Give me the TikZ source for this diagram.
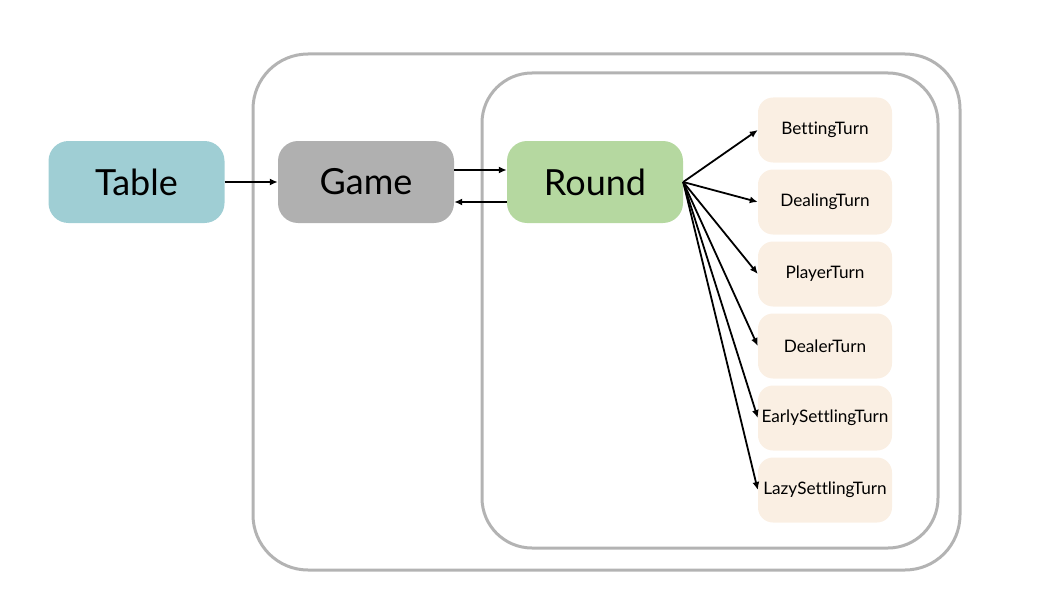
\documentclass[tikz,border=0pt]{standalone}
\usepackage{fontspec}
\setmainfont{Lato}[Ligatures=NoCommon]
\usetikzlibrary{arrows.meta}
\definecolor{framegray}{HTML}{B3B3B3}
\definecolor{tablecol}{HTML}{9FCED4}
\definecolor{gamecol}{HTML}{B0B0B0}
\definecolor{roundcol}{HTML}{B5D8A0}
\definecolor{turncol}{HTML}{FAEFE3}
\tikzset{
  bigbox/.style={rounded corners=20pt, minimum width=176pt, minimum height=82pt,
    font=\fontsize{36}{40}\selectfont},
  turnbox/.style={fill=turncol, rounded corners=15pt, minimum width=134pt,
    minimum height=65pt, inner sep=1pt, font=\fontsize{17.2}{20}\selectfont},
  link/.style={line width=1.8pt, -{Latex[length=8pt,width=7pt]}},
  frame/.style={draw=framegray, line width=3pt}
}
\begin{document}
\begin{tikzpicture}[x=1pt,y=-1pt]
\useasboundingbox (0,0) rectangle (1037,610);
% nested frames
\draw [frame, rounded corners=55pt] (253,54) rectangle (960,570);
\draw [frame, rounded corners=50pt] (482,73) rectangle (938,548);
% main boxes
\node [bigbox, fill=tablecol] (table) at (136.5,182) {Table};
\node [bigbox, fill=gamecol] (game) at (366,182) {Game};
\node [bigbox, fill=roundcol] (round) at (595,182) {Round};
% turns
\foreach \name/\txt [count=\i from 0] in {betting/BettingTurn, dealing/DealingTurn,
    player/PlayerTurn, dealer/DealerTurn, early/EarlySettlingTurn, lazy/LazySettlingTurn}
{
  \node [turnbox] (\name) at (825,130+72*\i) {\txt};
  \draw [link] (round.east) -- (\name.west);
}
\draw [link] (table) -- (game);
\draw [link] ([yshift=12pt]game.east) -- ([yshift=12pt]round.west);
\draw [link] ([yshift=-20pt]round.west) -- ([yshift=-20pt]game.east);
\end{tikzpicture}
\end{document}
